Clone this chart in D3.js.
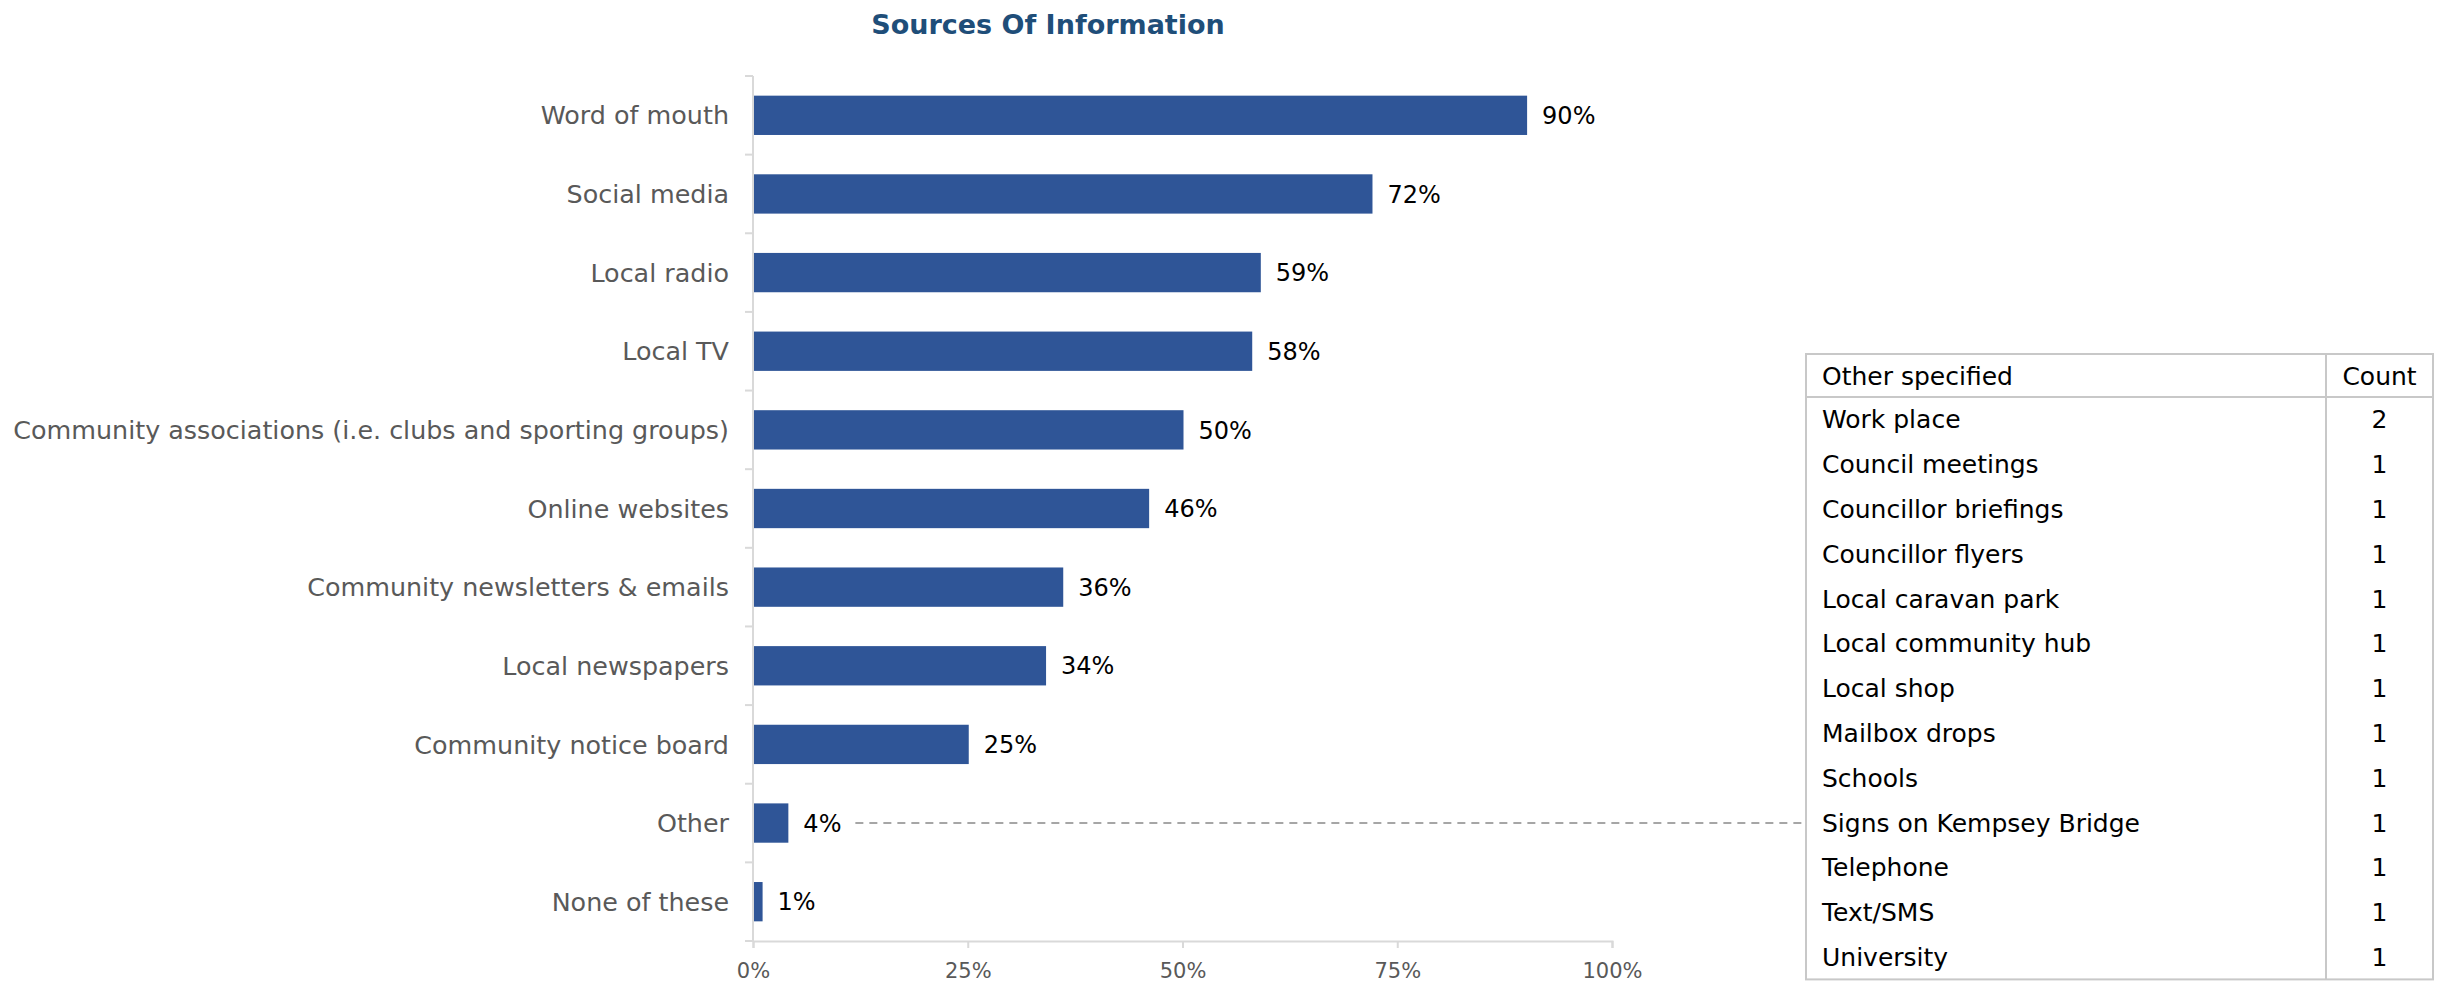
<!DOCTYPE html>
<html>
<head>
<meta charset="utf-8">
<script src="https://cdn.jsdelivr.net/npm/d3@7"></script>
<style>
  html, body { margin: 0; padding: 0; background: #ffffff; }
  svg { display: block; }
</style>
</head>
<body>
<svg id="chart" width="2443" height="985"></svg>
<script>
// Survey sources of information (share of respondents)
const categories = [
  "Word of mouth",
  "Social media",
  "Local radio",
  "Local TV",
  "Community associations (i.e. clubs and sporting groups)",
  "Online websites",
  "Community newsletters & emails",
  "Local newspapers",
  "Community notice board",
  "Other",
  "None of these"
];
const shares = [90, 72, 59, 58, 50, 46, 36, 34, 25, 4, 1];
const xTicks = [0, 25, 50, 75, 100];

// Breakdown of the "Other" responses
const otherItems = [
  "Work place", "Council meetings", "Councillor briefings", "Councillor flyers",
  "Local caravan park", "Local community hub", "Local shop", "Mailbox drops",
  "Schools", "Signs on Kempsey Bridge", "Telephone", "Text/SMS", "University"
];
const otherCounts = [2, 1, 1, 1, 1, 1, 1, 1, 1, 1, 1, 1, 1];
const tableHeader = ["Other specified", "Count"];

const FONT = "'Century Gothic', 'DejaVu Sans', sans-serif";
const svg = d3.select("#chart");

const plot = { left: 753, right: 1612, top: 76, bottom: 941 };

const x = d3.scaleLinear().domain([0, 100]).range([plot.left, plot.right]);
const y = d3.scaleBand().domain(categories).range([plot.top, plot.bottom])
  .paddingInner(0.5).paddingOuter(0.25);

// Title
svg.append("text")
  .attr("x", 1048).attr("y", 34)
  .attr("text-anchor", "middle")
  .attr("font-family", FONT).attr("font-weight", "bold")
  .attr("font-size", 27).attr("fill", "#1f4e79")
  .text("Sources Of Information");

// Category axis with ticks on band boundaries
const gy = svg.append("g");
gy.append("line")
  .attr("x1", plot.left).attr("x2", plot.left)
  .attr("y1", plot.top).attr("y2", plot.bottom)
  .attr("stroke", "#d9d9d9").attr("stroke-width", 2);
const boundaries = d3.range(categories.length + 1).map(i => plot.top + i * y.step());
gy.selectAll("line.tick").data(boundaries).join("line")
  .attr("class", "tick")
  .attr("x1", plot.left - 8).attr("x2", plot.left)
  .attr("y1", d => d).attr("y2", d => d)
  .attr("stroke", "#d9d9d9").attr("stroke-width", 2);
gy.selectAll("text").data(categories).join("text")
  .attr("x", plot.left - 24)
  .attr("y", d => y(d) + y.bandwidth() / 2)
  .attr("dy", "0.36em")
  .attr("text-anchor", "end")
  .attr("font-family", FONT).attr("font-size", 25.4).attr("fill", "#595959")
  .text(d => d);

// Value axis
const gx = svg.append("g").attr("transform", `translate(0,${plot.bottom})`)
  .call(d3.axisBottom(x).tickValues(xTicks).tickFormat(d => d + "%").tickSize(7).tickPadding(15));
gx.select(".domain").attr("stroke", "#d9d9d9").attr("stroke-width", 2);
gx.selectAll(".tick line").attr("stroke", "#d9d9d9").attr("stroke-width", 2);
gx.selectAll(".tick text")
  .attr("font-family", FONT).attr("font-size", 21).attr("fill", "#595959");

// Bars
const data = categories.map((c, i) => ({ c, v: shares[i] }));
svg.append("g").selectAll("rect").data(data).join("rect")
  .attr("x", x(0) + 1)
  .attr("y", d => y(d.c))
  .attr("width", d => x(d.v) - x(0))
  .attr("height", y.bandwidth())
  .attr("fill", "#2f5597");

// Value labels
svg.append("g").selectAll("text").data(data).join("text")
  .attr("x", d => x(d.v) + 16)
  .attr("y", d => y(d.c) + y.bandwidth() / 2)
  .attr("dy", "0.36em")
  .attr("font-family", FONT).attr("font-size", 24).attr("fill", "#000000")
  .text(d => d.v + "%");

// Table of "Other" responses
const table = { left: 1806, right: 2433, top: 354, divider: 2326, headerH: 43, rowH: 44.8 };
const tableBottom = table.top + table.headerH + otherItems.length * table.rowH;
const gt = svg.append("g");

// Leader line from the "Other" bar to the table
const otherY = y("Other") + y.bandwidth() / 2;
svg.append("line")
  .attr("x1", x(shares[categories.indexOf("Other")]) + 68).attr("x2", table.left)
  .attr("y1", otherY).attr("y2", otherY)
  .attr("stroke", "#a6a6a6").attr("stroke-width", 2)
  .attr("stroke-dasharray", "8,6");

gt.append("rect")
  .attr("x", table.left).attr("y", table.top)
  .attr("width", table.right - table.left).attr("height", tableBottom - table.top)
  .attr("fill", "#ffffff").attr("stroke", "#c8c8c8").attr("stroke-width", 2);
gt.append("line")
  .attr("x1", table.left).attr("x2", table.right)
  .attr("y1", table.top + table.headerH).attr("y2", table.top + table.headerH)
  .attr("stroke", "#c8c8c8").attr("stroke-width", 2);
gt.append("line")
  .attr("x1", table.divider).attr("x2", table.divider)
  .attr("y1", table.top).attr("y2", tableBottom)
  .attr("stroke", "#c8c8c8").attr("stroke-width", 2);

const countCenter = (table.divider + table.right) / 2;
gt.append("text")
  .attr("x", table.left + 16).attr("y", table.top + table.headerH / 2)
  .attr("dy", "0.36em")
  .attr("font-family", FONT).attr("font-size", 25).attr("fill", "#000")
  .text(tableHeader[0]);
gt.append("text")
  .attr("x", countCenter).attr("y", table.top + table.headerH / 2)
  .attr("dy", "0.36em").attr("text-anchor", "middle")
  .attr("font-family", FONT).attr("font-size", 25).attr("fill", "#000")
  .text(tableHeader[1]);

const rowY = i => table.top + table.headerH + (i + 0.5) * table.rowH;
gt.selectAll("text.item").data(otherItems).join("text")
  .attr("class", "item")
  .attr("x", table.left + 16).attr("y", (d, i) => rowY(i))
  .attr("dy", "0.36em")
  .attr("font-family", FONT).attr("font-size", 25).attr("fill", "#000")
  .text(d => d);
gt.selectAll("text.count").data(otherCounts).join("text")
  .attr("class", "count")
  .attr("x", countCenter).attr("y", (d, i) => rowY(i))
  .attr("dy", "0.36em").attr("text-anchor", "middle")
  .attr("font-family", FONT).attr("font-size", 25).attr("fill", "#000")
  .text(d => d);
</script>
</body>
</html>
